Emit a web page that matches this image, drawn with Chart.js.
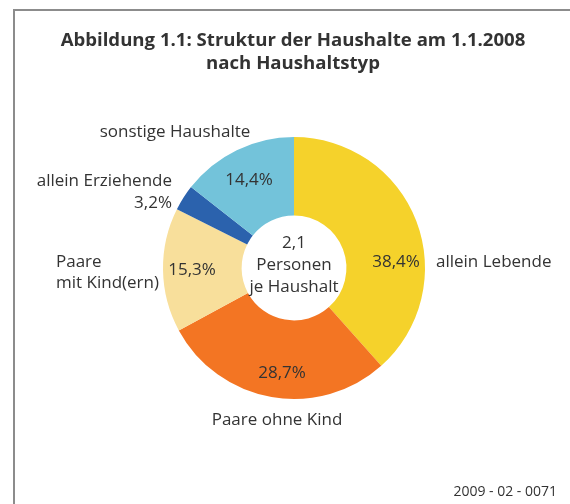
<!DOCTYPE html>
<html lang="de">
<head>
<meta charset="utf-8">
<title>Struktur der Haushalte am 1.1.2008</title>
<script src="https://cdn.jsdelivr.net/npm/chart.js@4.4.1/dist/chart.umd.min.js"></script>
<style>
  html, body { margin: 0; padding: 0; background: #fff; }
  canvas { display: block; }
</style>
</head>
<body>
<canvas id="haushalte" width="570" height="504"></canvas>
<script>
// Daten: Haushalte nach Haushaltstyp (Anteile in %)
const categories = ['allein Lebende', 'Paare ohne Kind', 'Paare mit Kind(ern)', 'allein Erziehende', 'sonstige Haushalte'];
const shares = [38.4, 28.7, 15.3, 3.2, 14.4];
const sliceColors = ['#F5D22B', '#F37523', '#F8DF9B', '#2B62AD', '#73C3DA'];
const titleLines = ['Abbildung 1.1: Struktur der Haushalte am 1.1.2008', 'nach Haushaltstyp'];
const centerLines = ['2,1', 'Personen', 'je Haushalt'];
const sourceNote = '2009 - 02 - 0071';

const textColor = '#333333';
const bodyFont = '17px "Open Sans", sans-serif';

// Position der Texte relativ zum Mittelpunkt des Rings (Hand-Layout wie im Original)
const percentSpots = [
  { dx: 102, dy: -6, align: 'center' },
  { dx: -12, dy: 105, align: 'center' },
  { dx: -102, dy: 2, align: 'center' },
  { dx: -122, dy: -65, align: 'right' },
  { dx: -45, dy: -88, align: 'center' }
];
const nameSpots = [
  { dx: 142, dy: -6, align: 'left', lines: ['allein Lebende'] },
  { dx: -17, dy: 152, align: 'center', lines: ['Paare ohne Kind'] },
  { dx: -238, dy: -6, align: 'left', lines: ['Paare', 'mit Kind(ern)'] },
  { dx: -122, dy: -87, align: 'right', lines: ['allein Erziehende'] },
  { dx: -119, dy: -136, align: 'center', lines: ['sonstige Haushalte'] }
];

function formatShare(v) {
  return v.toFixed(1).replace('.', ',') + '%';
}

// Plugin: Rahmen, Titel, Beschriftungen und Quellennummer zeichnen
const labelPlugin = {
  id: 'haushaltLabels',
  beforeDraw(chart) {
    const ctx = chart.ctx;
    ctx.save();
    ctx.strokeStyle = '#8c8c8c';
    ctx.lineWidth = 2;
    ctx.beginPath();
    ctx.moveTo(14, 520);
    ctx.lineTo(14, 10);
    ctx.lineTo(580, 10);
    ctx.stroke();
    ctx.restore();
  },
  afterDraw(chart) {
    const ctx = chart.ctx;
    const arcs = chart.getDatasetMeta(0).data;
    const cx = arcs[0].x;
    const cy = arcs[0].y;

    ctx.save();
    ctx.fillStyle = textColor;
    ctx.textBaseline = 'middle';

    // Titel
    ctx.font = 'bold 18.6px "Open Sans", sans-serif';
    ctx.textAlign = 'center';
    titleLines.forEach((line, i) => ctx.fillText(line, 293, 41 + i * 23));

    // Prozentwerte
    ctx.font = bodyFont;
    shares.forEach((v, i) => {
      const spot = percentSpots[i];
      ctx.textAlign = spot.align;
      ctx.fillText(formatShare(v), cx + spot.dx, cy + spot.dy);
    });

    // Kategorienamen
    nameSpots.forEach((spot) => {
      ctx.textAlign = spot.align;
      spot.lines.forEach((line, j) => ctx.fillText(line, cx + spot.dx, cy + spot.dy + j * 21));
    });

    // Mitte des Rings
    ctx.textAlign = 'center';
    centerLines.forEach((line, i) => ctx.fillText(line, cx, cy - 25 + i * 22));

    // Quellennummer
    ctx.font = '14px "Open Sans", sans-serif';
    ctx.textAlign = 'right';
    ctx.fillText(sourceNote, 557, 492);
    ctx.restore();
  }
};

const ctx = document.getElementById('haushalte').getContext('2d');
new Chart(ctx, {
  type: 'doughnut',
  data: {
    labels: categories,
    datasets: [{
      data: shares,
      backgroundColor: sliceColors,
      borderWidth: 0,
      hoverOffset: 0
    }]
  },
  options: {
    responsive: false,
    animation: false,
    cutout: '40%',
    rotation: 0,
    layout: {
      padding: { left: 163, right: 145, top: 137, bottom: 105 }
    },
    plugins: {
      legend: { display: false },
      title: { display: false },
      tooltip: { enabled: false }
    }
  },
  plugins: [labelPlugin]
});
</script>
</body>
</html>
